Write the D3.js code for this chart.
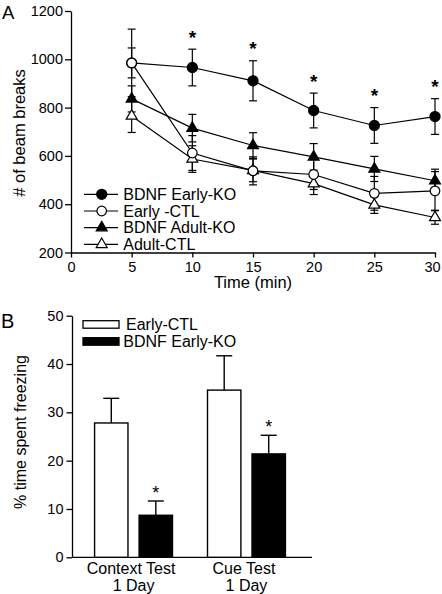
<!DOCTYPE html>
<html><head><meta charset="utf-8">
<script src="https://cdn.jsdelivr.net/npm/d3@7"></script>
<style>body{margin:0;background:#fff} text{font-family:"Liberation Sans",Arial,Helvetica,sans-serif;fill:#000}</style>
</head><body>
<svg id="c" width="442" height="594"></svg>
<script>
// ---------- Panel A data ----------
const times = [5,10,15,20,25,30];
const earlyKO = [985,966,911,788,726,763];
const earlyKOErr = [140,76,83,72,74,74];
const earlyCTL = [985,612,538,523,445,455];
const earlyCTLErr = [62,72,58,62,70,80];
const adultKO = [836,715,643,596,546,497];
const adultKOErr = [54,57,53,55,52,48];
const adultCTL = [765,587,540,485,397,345];
const adultCTLErr = [68,55,47,45,35,28];
const seriesNames = ["BDNF Early-KO","Early -CTL","BDNF Adult-KO","Adult-CTL"];
const sigTimes = [10,15,20,25,30];
const yTicksA = [200,400,600,800,1000,1200];
const xTicksA = [0,5,10,15,20,25,30];

// ---------- Panel B data ----------
const testCategories = ["Context Test|1 Day","Cue Test|1 Day"];
const groupNames = ["Early-CTL","BDNF Early-KO"];
const freezeCTL = [27.8,34.6];
const freezeCTLErr = [5.1,7.1];
const freezeKO = [8.7,21.4];
const freezeKOErr = [2.95,3.85];
const sigB = [true,true];
const yTicksB = [0,10,20,30,40,50];

const svg = d3.select("#c");

// ================= Panel A =================
const xA = d3.scaleLinear().domain([0,30]).range([71,435]);
const yA = d3.scaleLinear().domain([200,1200]).range([252.5,11]);

const gA = svg.append("g");
gA.append("g").attr("transform","translate(71,0)")
  .call(d3.axisLeft(yA).tickValues(yTicksA).tickFormat(d3.format("d")).tickSize(6).tickPadding(2).tickSizeOuter(0))
  .call(g=>{g.selectAll("text").style("font-size","14.5px").attr("font-family",null);
            g.selectAll("line,path").attr("stroke","#000").attr("stroke-width",1.3);});
gA.append("g").attr("transform","translate(0,252.5)")
  .call(d3.axisBottom(xA).tickValues(xTicksA).tickFormat(d3.format("d")).tickSize(5).tickPadding(4.5).tickSizeOuter(0))
  .call(g=>{g.selectAll("text").style("font-size","14.5px").attr("font-family",null)
              .attr("dx",d=>d===30?"-3px":null);
            g.selectAll("line,path").attr("stroke","#000").attr("stroke-width",1.3);});

gA.append("text").attr("transform","translate(25,133) rotate(-90)")
  .attr("text-anchor","middle").style("font-size","16.5px").text("# of beam breaks");
gA.append("text").attr("x",xA(15)).attr("y",287.5).attr("text-anchor","middle")
  .style("font-size","16.5px").text("Time (min)");
svg.append("text").attr("x",2).attr("y",19).style("font-size","18.5px").text("A");

const series = [
  {name:seriesNames[0], vals:earlyKO, err:earlyKOErr, sym:d3.symbolCircle, size:80, fill:"#000"},
  {name:seriesNames[1], vals:earlyCTL, err:earlyCTLErr, sym:d3.symbolCircle, size:72, fill:"#fff"},
  {name:seriesNames[2], vals:adultKO, err:adultKOErr, sym:d3.symbolTriangle, size:52, fill:"#000"},
  {name:seriesNames[3], vals:adultCTL, err:adultCTLErr, sym:d3.symbolTriangle, size:52, fill:"#fff"}
];
const line = d3.line().x(d=>xA(d.t)).y(d=>yA(d.v));
const drawOrder = [0,2,3,1];
drawOrder.forEach(i=>{
  const s = series[i];
  const pts = times.map((t,j)=>({t, v:s.vals[j], e:s.err[j]}));
  const eg = gA.append("g").attr("stroke","#000").attr("stroke-width",1.2);
  pts.forEach(p=>{
    eg.append("line").attr("x1",xA(p.t)).attr("x2",xA(p.t)).attr("y1",yA(p.v-p.e)).attr("y2",yA(p.v+p.e));
    [p.v-p.e,p.v+p.e].forEach(v=>eg.append("line").attr("x1",xA(p.t)-4).attr("x2",xA(p.t)+4).attr("y1",yA(v)).attr("y2",yA(v)));
  });
  gA.append("path").datum(pts).attr("d",line).attr("fill","none").attr("stroke","#000").attr("stroke-width",1.2);
});
drawOrder.forEach(i=>{
  const s = series[i];
  gA.append("g").selectAll("path").data(times.map((t,j)=>({t,v:s.vals[j]}))).join("path")
    .attr("transform",d=>`translate(${xA(d.t)},${yA(d.v)})`)
    .attr("d",d3.symbol().type(s.sym).size(s.size))
    .attr("fill",s.fill).attr("stroke","#000").attr("stroke-width",1.2);
});
// significance asterisks
sigTimes.forEach(t=>{
  const j = times.indexOf(t);
  gA.append("text").attr("x",xA(t)).attr("y",yA(earlyKO[j]+earlyKOErr[j])-5.5)
    .attr("text-anchor","middle").style("font-size","19px").style("font-weight","bold").text("*");
});
// legend A
const legA = gA.append("g");
series.forEach((s,i)=>{
  const y = 194.3 + i*16.7;
  legA.append("line").attr("x1",84).attr("x2",118).attr("y1",y).attr("y2",y).attr("stroke","#000").attr("stroke-width",1.2);
  legA.append("path").attr("transform",`translate(101.7,${y})`).attr("d",d3.symbol().type(s.sym).size(s.size))
    .attr("fill",s.fill).attr("stroke","#000").attr("stroke-width",1.2);
  legA.append("text").attr("x",123.3).attr("y",y).attr("dy","0.35em").style("font-size","16px").text(s.name);
});

// ================= Panel B =================
const yB = d3.scaleLinear().domain([0,50]).range([557.3,315.7]);
const xB = d3.scaleBand().domain(testCategories).range([72,308]).paddingInner(0.31).paddingOuter(0.2);
const xInner = d3.scaleBand().domain(groupNames).range([0,xB.bandwidth()]).paddingInner(0.25);

const gB = svg.append("g");
gB.append("g").attr("transform","translate(72,0)")
  .call(d3.axisLeft(yB).tickValues(yTicksB).tickSize(5.5).tickPadding(3).tickSizeOuter(0))
  .call(g=>{g.selectAll("text").style("font-size","14.5px").attr("font-family",null);
            g.selectAll("line,path").attr("stroke","#000").attr("stroke-width",1.3);});
gB.append("line").attr("x1",72).attr("x2",312).attr("y1",yB(0)).attr("y2",yB(0)).attr("stroke","#000").attr("stroke-width",1.3);

gB.append("text").attr("transform","translate(26,432) rotate(-90)")
  .attr("text-anchor","middle").style("font-size","16px").text("% time spent freezing");
svg.append("text").attr("x",1).attr("y",328).style("font-size","20px").text("B");

const barData = [];
testCategories.forEach((c,i)=>{
  barData.push({c, g:groupNames[0], v:freezeCTL[i], e:freezeCTLErr[i], fill:"#fff", sig:false});
  barData.push({c, g:groupNames[1], v:freezeKO[i], e:freezeKOErr[i], fill:"#000", sig:sigB[i]});
});
const bw = xInner.bandwidth();
barData.forEach(d=>{
  const x0 = xB(d.c)+xInner(d.g);
  const cx = x0 + bw/2;
  gB.append("line").attr("x1",cx).attr("x2",cx).attr("y1",yB(d.v)).attr("y2",yB(d.v+d.e)).attr("stroke","#000").attr("stroke-width",1.4);
  gB.append("line").attr("x1",cx-8).attr("x2",cx+8).attr("y1",yB(d.v+d.e)).attr("y2",yB(d.v+d.e)).attr("stroke","#000").attr("stroke-width",1.4);
  gB.append("rect").attr("x",x0).attr("y",yB(d.v)).attr("width",bw).attr("height",yB(0)-yB(d.v))
    .attr("fill",d.fill).attr("stroke","#000").attr("stroke-width",1.4);
  if(d.sig){
    gB.append("text").attr("x",cx).attr("y",yB(d.v+d.e)-2.5).attr("text-anchor","middle").style("font-size","18px").text("*");
  }
});
testCategories.forEach(c=>{
  const parts = c.split("|");
  const cx = xB(c)+xB.bandwidth()/2;
  gB.append("text").attr("x",cx-2.5).attr("y",574).attr("text-anchor","middle").style("font-size","16px").text(parts[0]);
  gB.append("text").attr("x",cx).attr("y",591).attr("text-anchor","middle").style("font-size","16px").text(parts[1]);
});
// legend B
const legB = gB.append("g");
groupNames.forEach((n,i)=>{
  const y = 320.7 + i*17;
  legB.append("rect").attr("x",83).attr("y",y).attr("width",36).attr("height",7.5)
    .attr("fill",i===0?"#fff":"#000").attr("stroke","#000").attr("stroke-width",1.3);
  legB.append("text").attr("x",i===0?126:123.3).attr("y",y+3.8).attr("dy","0.35em").style("font-size","16px").text(n);
});
</script>
</body></html>
